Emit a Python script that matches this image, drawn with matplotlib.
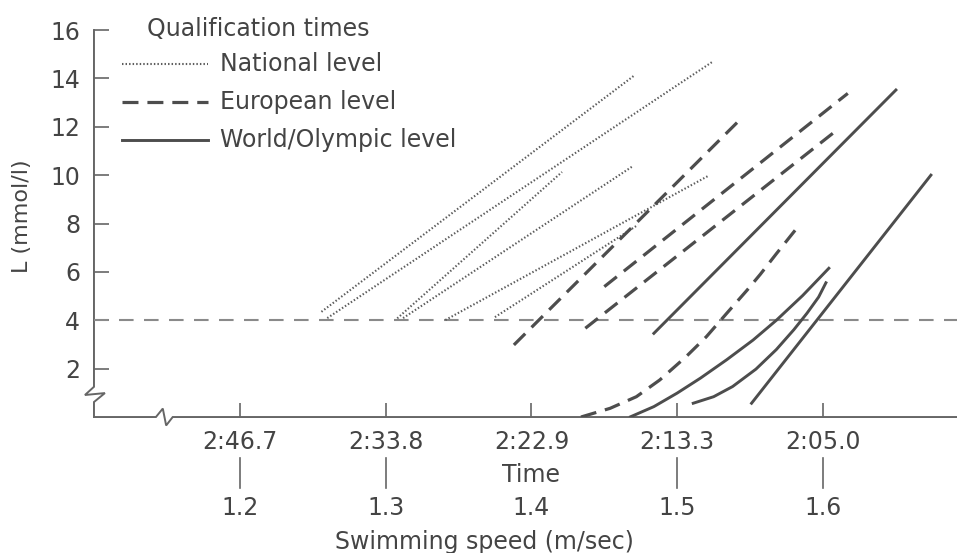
import matplotlib.pyplot as plt
from matplotlib.transforms import blended_transform_factory

plt.rcParams['font.family'] = ['DejaVu Sans']

# tick values on the speed axis and matching qualification times
speeds = [1.2, 1.3, 1.4, 1.5, 1.6]
times = ['2:46.7', '2:33.8', '2:22.9', '2:13.3', '2:05.0']
lactate_ticks = [2, 4, 6, 8, 10, 12, 14, 16]
threshold = 4

# lactate curves (speed in m/s, L in mmol/l)
national_x = [[1.256, 1.471], [1.260, 1.524], [1.308, 1.421],
              [1.312, 1.469], [1.341, 1.521], [1.375, 1.473]]
national_y = [[4.35, 14.14], [4.09, 14.68], [4.08, 10.13],
              [4.09, 10.35], [4.01, 9.96], [4.13, 7.94]]

european_x = [[1.388, 1.545], [1.437, 1.608], [1.450, 1.617],
              [1.434, 1.454, 1.472, 1.488, 1.506, 1.520, 1.534, 1.548,
               1.557, 1.568, 1.581]]
european_y = [[2.98, 12.41], [3.67, 11.79], [5.39, 13.38],
              [0.0, 0.36, 0.84, 1.53, 2.49, 3.32, 4.29, 5.25,
               5.90, 6.75, 7.73]]

world_x = [[1.484, 1.650], [1.551, 1.674],
           [1.468, 1.484, 1.500, 1.516, 1.534, 1.552, 1.568, 1.586, 1.604],
           [1.511, 1.525, 1.538, 1.554, 1.568, 1.580, 1.589, 1.597, 1.602]]
world_y = [[3.46, 13.52], [0.57, 10.0],
           [0.01, 0.43, 0.99, 1.61, 2.37, 3.18, 4.00, 5.02, 6.15],
           [0.57, 0.84, 1.26, 1.98, 2.79, 3.61, 4.29, 4.96, 5.55]]

ink = '#444444'
line_c = '#4d4d4d'
dot_c = '#5c5c5c'
fs = 17

fig = plt.figure(figsize=(9.57, 5.53), dpi=100)
ax = fig.add_axes([0.0982, 0.2459, 0.9018, 0.6998])
ax.set_xlim(1.1, 1.6919)
ax.set_ylim(0, 16)

for s in ax.spines.values():
    s.set_visible(False)

# axis lines with break marks
ax.plot([1.1, 1.1, 1.0938, 1.1075, 1.1, 1.1],
        [16, 1.25, 0.91, 0.99, 0.62, 0], color='#666666', lw=1.4,
        clip_on=False, solid_joinstyle='miter')
ax.plot([1.1, 1.1425, 1.1472, 1.1495, 1.1540, 1.6919],
        [0, 0, 0.35, -0.35, 0, 0], color='#666666', lw=1.4,
        clip_on=False, solid_joinstyle='miter')

ax.axhline(threshold, color='#8a8a8a', lw=1.5, dashes=(7, 5))

for xs, ys in zip(national_x, national_y):
    ax.plot(xs, ys, color=dot_c, lw=1.5, dashes=(0.7, 1.0))
for xs, ys in zip(european_x, european_y):
    ax.plot(xs, ys, color=line_c, lw=2.3, dashes=(5, 2.8))
for xs, ys in zip(world_x, world_y):
    ax.plot(xs, ys, color=line_c, lw=2.1, solid_joinstyle='round')

# y ticks
ax.set_yticks(lactate_ticks)
ax.tick_params(axis='y', direction='in', length=11, width=1.2,
               color='#666666', pad=10, labelsize=fs, labelcolor=ink)
ax.set_ylabel('L (mmol/l)', fontsize=16, color=ink)
ax.yaxis.set_label_coords(-0.072, 0.52)

# x ticks: time labels
ax.set_xticks(speeds)
ax.set_xticklabels(times)
ax.tick_params(axis='x', direction='in', length=10, width=1.2,
               color='#666666', pad=9, labelsize=fs, labelcolor=ink)

trans = blended_transform_factory(ax.transData, ax.transAxes)
for sp in speeds:
    if sp == 1.4:
        ax.text(sp, -0.150, 'Time', transform=trans, ha='center',
                va='center', fontsize=fs, color=ink)
    else:
        ax.plot([sp, sp], [-0.106, -0.183], transform=trans,
                color='#666666', lw=1.2, clip_on=False)
    ax.text(sp, -0.235, f'{sp:.1f}', transform=trans, ha='center',
            va='center', fontsize=fs, color=ink)
ax.text(1.368, -0.323, 'Swimming speed (m/sec)', transform=trans,
        ha='center', va='center', fontsize=fs, color=ink)

# legend drawn by hand
ax.text(0.062, 1.003, 'Qualification times', transform=ax.transAxes,
        ha='left', va='center', fontsize=fs, color=ink)
leg = [('National level', dict(color=dot_c, lw=1.5, dashes=(0.7, 1.0))),
       ('European level', dict(color=line_c, lw=2.3, dashes=(5, 2.8))),
       ('World/Olympic level', dict(color=line_c, lw=2.1))]
for i, (lab, kw) in enumerate(leg):
    yy = 0.912 - i * 0.098
    ax.plot([0.032, 0.132], [yy, yy], transform=ax.transAxes,
            clip_on=False, **kw)
    ax.text(0.146, yy, lab, transform=ax.transAxes, ha='left',
            va='center', fontsize=fs, color=ink)

fig.savefig('out.png', dpi=100)
